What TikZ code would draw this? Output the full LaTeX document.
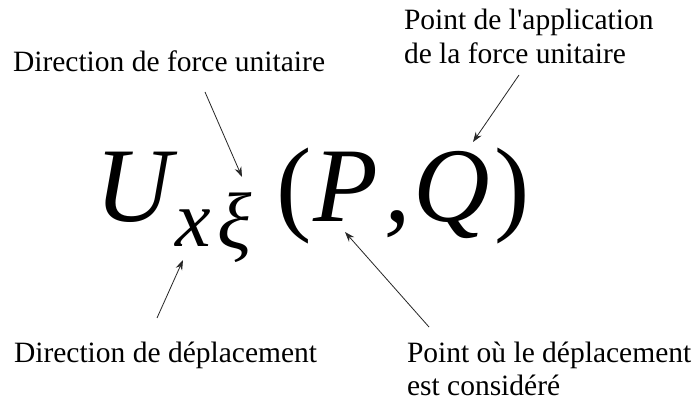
\documentclass[tikz,border=0pt]{standalone}
\usepackage{fontspec}
\setmainfont{Liberation Serif}[Ligatures=TeXOff]
\usetikzlibrary{arrows.meta}
\begin{document}
\begin{tikzpicture}[x=1pt,y=-1pt,
  lbl/.style={inner sep=0pt, outer sep=0pt, anchor=base west, font=\fontsize{29.5}{35}\selectfont},
  big/.style={inner sep=0pt, outer sep=0pt, anchor=base west, font=\fontsize{106}{110}\selectfont\itshape},
  bigup/.style={inner sep=0pt, outer sep=0pt, anchor=base west, font=\fontsize{106}{110}\selectfont},
  subs/.style={inner sep=0pt, outer sep=0pt, anchor=base west, font=\fontsize{80}{84}\selectfont\itshape},
  arr/.style={-{Stealth[length=10pt,width=7pt]}, line width=0.8pt, draw=black!85}]
\useasboundingbox[fill=white] (0,0) rectangle (699,406);
% labels
\node[lbl] (df)  at (13,72)   {Direction de force unitaire};
\node[lbl] (pa1) at (404,30)  {Point de l'application};
\node[lbl] (pa2) at (404,64)  {de la force unitaire};
\node[lbl] (dd)  at (14,362)  {Direction de déplacement};
\node[lbl] (po1) at (407,362) {Point où le déplacement};
\node[lbl] (po2) at (407,395) {est considéré};
% formula
\node[big]   (U)  at (95,222)  {U};
\node[subs]  (x)  at (175,247) {x};
\node[subs]  (xi) at (217,248) {ξ};
\node[bigup] (lp) at (276,222) {(};
\node[big]   (P)  at (313,222) {P};
\node[big]   (cm) at (384,222) {,};
\node[big]   (Q)  at (413,222) {Q};
\node[bigup] (rp) at (494,222) {)};
% arrow end points
\coordinate (a1s) at (205,92);  \coordinate (a1e) at (242,177);
\coordinate (a2s) at (519,75);  \coordinate (a2e) at (473,142);
\coordinate (a3s) at (157,318); \coordinate (a3e) at (183,260);
\coordinate (a4s) at (429,327); \coordinate (a4e) at (345,232);
\draw[arr] (a1s) -- (a1e);
\draw[arr] (a2s) -- (a2e);
\draw[arr] (a3s) -- (a3e);
\draw[arr] (a4s) -- (a4e);
\end{tikzpicture}
\end{document}
